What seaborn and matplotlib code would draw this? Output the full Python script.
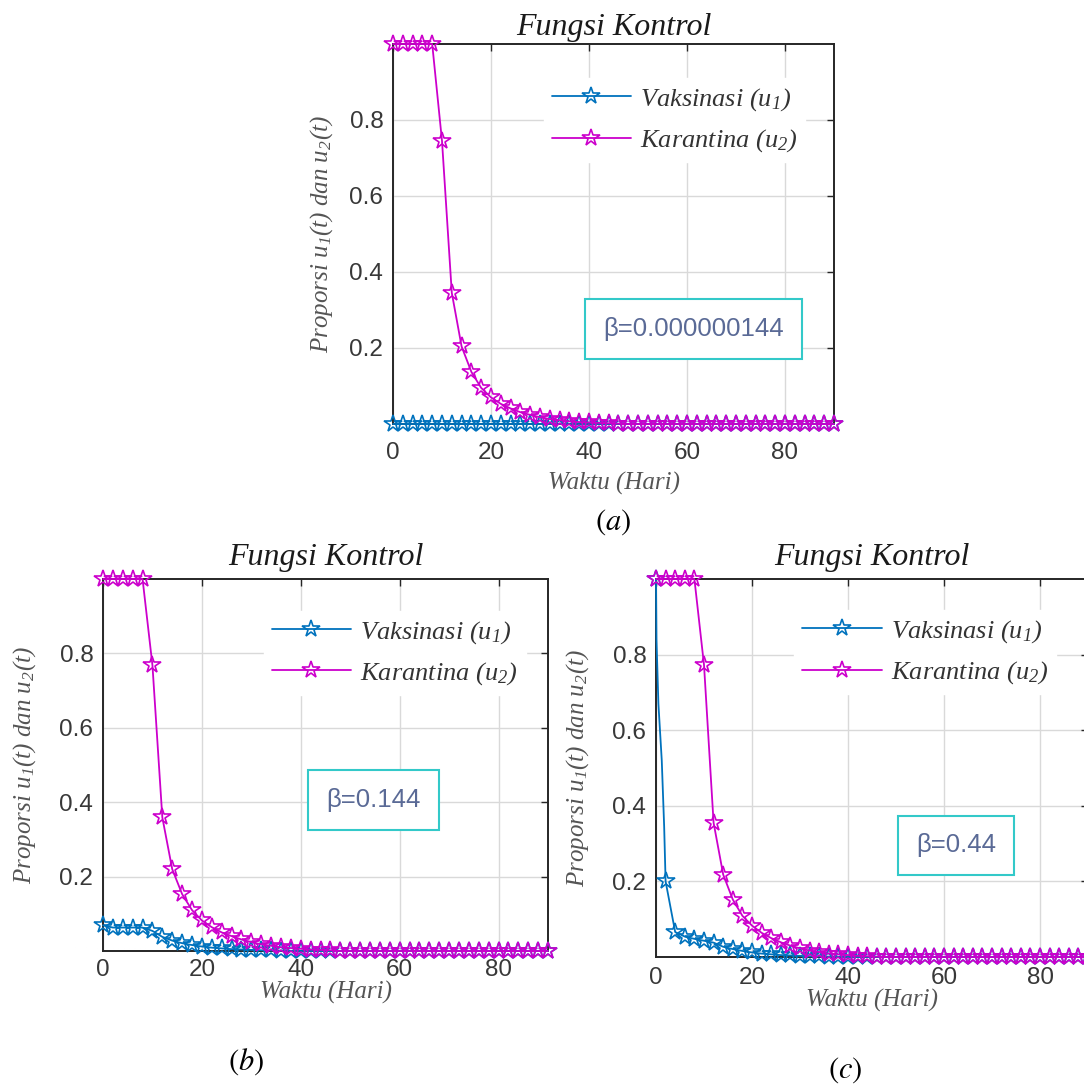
import numpy as np
import pandas as pd
import matplotlib
matplotlib.use("Agg")
import matplotlib.pyplot as plt
from matplotlib.lines import Line2D
import seaborn as sns

# ---------------- data ----------------
t = [0, 2, 4, 6, 8, 10, 12, 14, 16, 18, 20, 22, 24, 26, 28, 30, 32, 34, 36, 38,
     40, 42, 44, 46, 48, 50, 52, 54, 56, 58, 60, 62, 64, 66, 68, 70, 72, 74, 76, 78,
     80, 82, 84, 86, 88, 90]

u2_a = [1.0, 1.0, 1.0, 1.0, 1.0, 0.745, 0.345, 0.204, 0.137, 0.095, 0.070, 0.053,
        0.041, 0.031, 0.024, 0.018, 0.013, 0.010, 0.007, 0.005, 0.004, 0.003, 0.002,
        0.001, 0, 0, 0, 0, 0, 0, 0, 0, 0, 0, 0, 0, 0, 0, 0, 0, 0, 0, 0, 0, 0, 0]
u1_a = [0, 0, 0, 0, 0, 0, 0, 0, 0, 0, 0, 0, 0, 0, 0, 0, 0, 0, 0, 0, 0, 0, 0,
        0, 0, 0, 0, 0, 0, 0, 0, 0, 0, 0, 0, 0, 0, 0, 0, 0, 0, 0, 0, 0, 0, 0]

u2_b = [1.0, 1.0, 1.0, 1.0, 1.0, 0.768, 0.359, 0.220, 0.153, 0.110, 0.082, 0.064,
        0.050, 0.040, 0.031, 0.024, 0.018, 0.014, 0.010, 0.008, 0.006, 0.004, 0.003,
        0.002, 0, 0, 0, 0, 0, 0, 0, 0, 0, 0, 0, 0, 0, 0, 0, 0, 0, 0, 0, 0, 0, 0]
u1_b = [0.069, 0.063, 0.063, 0.063, 0.063, 0.054, 0.038, 0.028, 0.021, 0.016, 0.012,
        0.009, 0.007, 0.005, 0.004, 0.003, 0.002, 0.0015, 0.001, 0.0005, 0, 0, 0, 0,
        0, 0, 0, 0, 0, 0, 0, 0, 0, 0, 0, 0, 0, 0, 0, 0, 0, 0, 0, 0, 0, 0]

u2_c = [1.0, 1.0, 1.0, 1.0, 1.0, 0.773, 0.355, 0.218, 0.152, 0.109, 0.083, 0.064,
        0.050, 0.039, 0.030, 0.023, 0.017, 0.013, 0.009, 0.007, 0.005, 0.003, 0.002,
        0.001, 0, 0, 0, 0, 0, 0, 0, 0, 0, 0, 0, 0, 0, 0, 0, 0, 0, 0, 0, 0, 0, 0]
t_u1_c = [0, 0.1, 0.5, 1.2, 1.7, 2, 4, 6, 8, 10, 12, 14, 16, 18, 20, 22, 24, 26, 28,
          30, 32, 34, 36, 38, 40, 42, 44, 46, 48, 50, 52, 54, 56, 58, 60, 62, 64, 66,
          68, 70, 72, 74, 76, 78, 80, 82, 84, 86, 88, 90]
u1_c = [1.0, 0.84, 0.67, 0.52, 0.345, 0.20, 0.066, 0.054, 0.048, 0.043, 0.038, 0.027,
        0.021, 0.016, 0.012, 0.009, 0.007, 0.005, 0.004, 0.003, 0.002, 0.0015, 0.001,
        0.0005, 0, 0, 0, 0, 0, 0, 0, 0, 0, 0, 0, 0, 0, 0, 0, 0, 0, 0, 0, 0, 0, 0,
        0, 0, 0, 0]

betas = ["β=0.000000144", "β=0.144", "β=0.44"]
panel_tags = ["(a)", "(b)", "(c)"]
title_text = "Fungsi Kontrol"
xlabel_text = "Waktu (Hari)"
ylabel_text = r"Proporsi u$_{1}$(t) dan u$_{2}$(t)"
legend_labels = [r"Vaksinasi (u$_{1}$)", r"Karantina (u$_{2}$)"]
xticks = [0, 20, 40, 60, 80]
yticks = [0.2, 0.4, 0.6, 0.8]

# ---------------- style ----------------
sns.set_theme(style="white")
plt.rcParams["font.family"] = ["Liberation Sans", "DejaVu Sans"]
plt.rcParams["mathtext.fontset"] = "custom"
plt.rcParams["mathtext.rm"] = "Liberation Serif:italic"
plt.rcParams["mathtext.it"] = "Liberation Serif:italic"

BLUE = "#0072BD"
MAG = "#CC00CC"
SERIF = ["Liberation Serif", "DejaVu Serif"]

W = H = 1084
fig = plt.figure(figsize=(W / 100, H / 100), dpi=100)


def px_axes(left, right, top, bottom):
    return fig.add_axes([left / W, 1 - bottom / H, (right - left) / W, (bottom - top) / H])


panels = [
    dict(box=(393, 834, 44, 424), u1t=t, u1=u1_a, u2=u2_a, beta=(0.681, 0.251),
         tag=(613, 522), leg=(0.312, 0.945), xpad=13, tpad=6.5,
         xlab=483, ylab=322),
    dict(box=(103, 548, 579, 951), u1t=t, u1=u1_b, u2=u2_b, beta=(0.608, 0.407),
         tag=(246, 1062), leg=(0.332, 0.95), xpad=6, tpad=10,
         xlab=992, ylab=25),
    dict(box=(656, 1088, 579, 957), u1t=t_u1_c, u1=u1_c, u2=u2_c, beta=(0.694, 0.295),
         tag=(845, 1070), leg=(0.29, 0.952), xpad=7, tpad=10,
         xlab=1000, ylab=578),
]

mk = dict(marker="*", markersize=13, markerfacecolor="none", markeredgewidth=1.2)

for i, p in enumerate(panels):
    left, right, top, bottom = p["box"]
    ax = px_axes(*p["box"])
    df1 = pd.DataFrame({"t": p["u1t"], "u": p["u1"]})
    df2 = pd.DataFrame({"t": t, "u": p["u2"]})
    every1 = [k for k, v in enumerate(p["u1t"]) if float(v).is_integer() and int(v) % 2 == 0]
    sns.lineplot(data=df1, x="t", y="u", ax=ax, color=BLUE, linewidth=1.3,
                 estimator=None, sort=False, markeredgecolor=BLUE, markevery=every1,
                 clip_on=False, zorder=3, **mk)
    sns.lineplot(data=df2, x="t", y="u", ax=ax, color=MAG, linewidth=1.3,
                 estimator=None, sort=False, markeredgecolor=MAG,
                 clip_on=False, zorder=4, **mk)

    ax.set_xlim(0, 90)
    ax.set_ylim(0, 1)
    ax.set_xticks(xticks)
    ax.set_yticks(yticks)
    ax.set_xticklabels([str(v) for v in xticks])
    ax.set_yticklabels([f"{v:.1f}" for v in yticks])
    ax.grid(True, color="#d9d9d9", linewidth=1.0)
    ax.set_axisbelow(True)
    for s in ax.spines.values():
        s.set_color("#262626")
        s.set_linewidth(1.4)
        s.set_visible(True)
    ax.tick_params(direction="in", top=True, right=True, length=5, width=1,
                   color="#262626", labelsize=17.5, labelcolor="#383838")
    ax.tick_params(axis="y", pad=7)
    ax.tick_params(axis="x", pad=p["xpad"])

    ax.set_title(title_text, family=SERIF, style="italic", fontsize=23,
                 color="#1a1a1a", pad=p["tpad"])
    ax.set_xlabel(xlabel_text, family=SERIF, style="italic", fontsize=18,
                  color="#555555", va="center")
    ax.xaxis.set_label_coords(0.5, (bottom - p["xlab"]) / (bottom - top))
    ax.set_ylabel(ylabel_text, family=SERIF, style="italic", fontsize=18,
                  color="#555555", va="center")
    ax.yaxis.set_label_coords((p["ylab"] - left) / (right - left), 0.5)

    handles = [Line2D([], [], color=BLUE, linewidth=1.3, markeredgecolor=BLUE, **mk),
               Line2D([], [], color=MAG, linewidth=1.3, markeredgecolor=MAG, **mk)]
    leg = ax.legend(handles, legend_labels, loc="upper left", bbox_to_anchor=p["leg"],
                    frameon=True, framealpha=1, facecolor="white", edgecolor="white",
                    fancybox=False, handlelength=3.0, handletextpad=0.35,
                    labelspacing=0.55, borderpad=0.3, numpoints=1,
                    prop=dict(family=SERIF, style="italic", size=19))
    for txt in leg.get_texts():
        txt.set_color("#333333")
    leg.set_zorder(6)

    ax.text(p["beta"][0], p["beta"][1], betas[i], transform=ax.transAxes,
            ha="center", va="center", fontsize=18.5, color="#5a6a96",
            family=["Liberation Sans", "DejaVu Sans"], zorder=7,
            bbox=dict(boxstyle="square,pad=0.7", facecolor="white",
                      edgecolor="#33c9c9", linewidth=1.5))

    fig.text(p["tag"][0] / W, 1 - p["tag"][1] / H, "$" + panel_tags[i] + "$",
             ha="center", va="center", fontsize=22, color="black",
             math_fontfamily="stix")

fig.savefig("out.png", dpi=100)
